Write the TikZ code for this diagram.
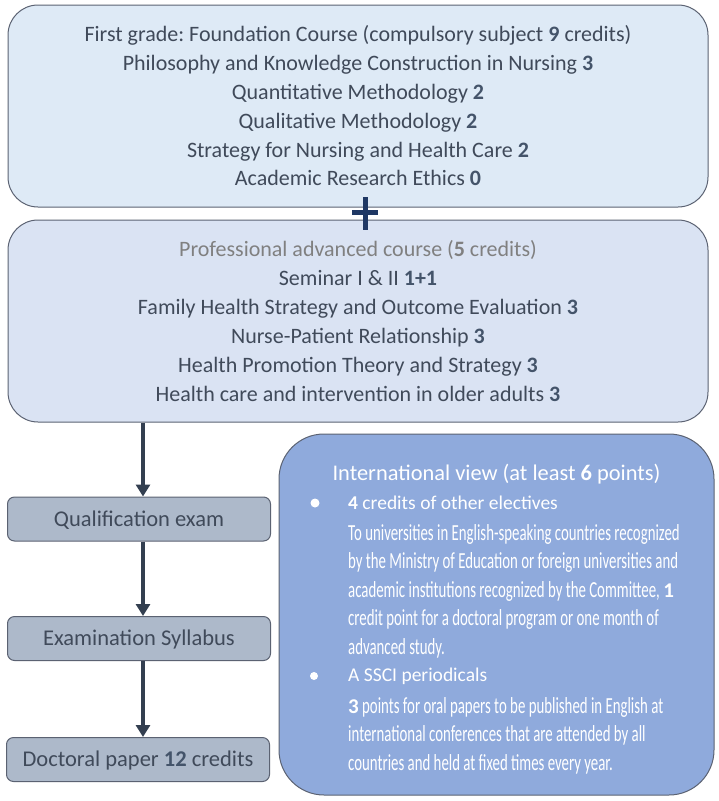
\documentclass[tikz,border=0pt]{standalone}
\usepackage{fontspec}
\setmainfont{Carlito}
\newfontfamily\condfont[FakeStretch=0.645]{Carlito}
\usetikzlibrary{arrows.meta}
\frenchspacing
\definecolor{txt}{HTML}{404A5A}
\definecolor{num}{HTML}{44546A}
\definecolor{graytitle}{HTML}{808080}
\definecolor{fillA}{HTML}{DEEAF6}
\definecolor{fillB}{HTML}{DAE3F3}
\definecolor{fillC}{HTML}{ADB9CA}
\definecolor{fillD}{HTML}{8FAADC}
\definecolor{bord}{HTML}{5B6272}
\definecolor{arrowc}{HTML}{333F50}
\definecolor{navy}{HTML}{1F3864}
\newcommand{\nb}[1]{\textbf{\color{num}#1}}
\tikzset{
  bigbox/.style={draw=bord, line width=1pt, rounded corners=30pt, minimum width=700pt, minimum height=202pt, align=center, text=txt, font=\fontsize{22}{28.8}\selectfont},
  smallbox/.style={draw=bord, line width=1pt, fill=fillC, rounded corners=7pt, minimum width=263pt, minimum height=44pt, text=txt, text height=17pt, text depth=3pt, font=\fontsize{22.5}{24}\selectfont},
  flow/.style={draw=arrowc, line width=4pt, -{Triangle[width=14pt,length=12pt]}},
  whitehead/.style={text=white, anchor=west, inner sep=0pt, font=\fontsize{19.5}{22}\selectfont},
  whitebody/.style={text=white, anchor=north west, inner sep=0pt, align=left, font=\condfont\fontsize{23}{28.6}\selectfont},
  bulletdot/.style={circle, fill=white, inner sep=0pt, minimum size=9pt},
}
\begin{document}
\begin{tikzpicture}[x=1pt,y=-1pt]
\useasboundingbox (0,0) rectangle (719,801);
\node[bigbox, fill=fillA] (top) at (358,106) {First grade: Foundation Course (compulsory subject \nb{9} credits)\\
Philosophy and Knowledge Construction in Nursing \nb{3}\\
Quantitative Methodology \nb{2}\\
Qualitative Methodology \nb{2}\\
Strategy for Nursing and Health Care \nb{2}\\
Academic Research Ethics \nb{0}};
\node[bigbox, fill=fillB, font=\fontsize{22}{29}\selectfont] (adv) at (358,321) {{\color{graytitle}Professional advanced course (\textbf{5} credits)}\\
Seminar I \& II \nb{1+1}\\
Family Health Strategy and Outcome Evaluation \nb{3}\\
Nurse-Patient Relationship \nb{3}\\
Health Promotion Theory and Strategy \nb{3}\\
Health care and intervention in older adults \nb{3}};
\draw[navy, line width=5pt] (365,197) -- (365,230) (352,212) -- (378,212);
\node[smallbox] (qual) at (139,519) {Qualification exam};
\node[smallbox] (syl) at (139,638.5) {Examination Syllabus};
\node[smallbox] (doc) at (138,759.5) {Doctoral paper \nb{12} credits};
\draw[flow] (adv.south -| 143,0) -- (qual.north -| 143,0);
\draw[flow] (qual.south -| 143,0) -- (syl.north -| 143,0);
\draw[flow] (syl.south -| 143,0) -- (doc.north -| 143,0);
\node[draw=bord, line width=1pt, fill=fillD, rounded corners=45pt, minimum width=435pt, minimum height=361pt] (intl) at (496.5,614.5) {};
\node[text=white, font=\fontsize{22.4}{24}\selectfont] (title) at (496.5,474) {International view (at least \textbf{6} points)};
\node[bulletdot] (b1) at (315,503) {};
\node[bulletdot, minimum size=8pt] (b2) at (314,676) {};
\node[whitehead] (h1) at (348,503) {\textbf{4} credits of other electives};
\node[whitebody] (p1) at (348,524) {To universities in English-speaking countries recognized\\
by the Ministry of Education or foreign universities and\\
academic institutions recognized by the Committee, {\fontspec{Carlito}\fontsize{21}{28.6}\selectfont\textbf{1}}\\
credit point for a doctoral program or one month of\\
advanced study.};
\node[whitehead] (h2) at (348,676) {A SSCI periodicals};
\node[whitebody] (p2) at (348,697) {{\fontspec{Carlito}\fontsize{21}{28.6}\selectfont\textbf{3}} points for oral papers to be published in English at\\
international conferences that are attended by all\\
countries and held at fixed times every year.};
\end{tikzpicture}
\end{document}
